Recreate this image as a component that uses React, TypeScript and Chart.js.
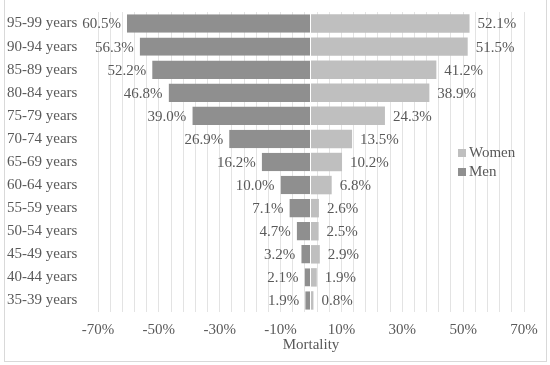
import React, { useEffect, useRef } from "react";
import { Chart, registerables } from "chart.js";

Chart.register(...registerables);

const ageGroups = [
  "95-99 years", "90-94 years", "85-89 years", "80-84 years", "75-79 years",
  "70-74 years", "65-69 years", "60-64 years", "55-59 years", "50-54 years",
  "45-49 years", "40-44 years", "35-39 years",
];
const menMortality = [60.5, 56.3, 52.2, 46.8, 39.0, 26.9, 16.2, 10.0, 7.1, 4.7, 3.2, 2.1, 1.9];
const womenMortality = [52.1, 51.5, 41.2, 38.9, 24.3, 13.5, 10.2, 6.8, 2.6, 2.5, 2.9, 1.9, 0.8];
const axisMin = -70;
const axisMax = 70;
const gridStep = 4;
const labelStep = 20;

const FONT = "'Liberation Serif', 'Times New Roman', serif";
const TEXT = "#595959";
const MEN = "#8f8f8f";
const WOMEN = "#bfbfbf";

const labelsPlugin = {
  id: "barLabels",
  afterDatasetsDraw(chart: any) {
    const ctx = chart.ctx;
    ctx.save();
    ctx.font = `15px ${FONT}`;
    ctx.fillStyle = TEXT;
    ctx.textBaseline = "middle";
    chart.data.datasets.forEach((ds: any, di: number) => {
      const meta = chart.getDatasetMeta(di);
      meta.data.forEach((el: any, i: number) => {
        const v = ds.data[i];
        const txt = `${Math.abs(v).toFixed(1)}%`;
        if (v < 0) {
          ctx.textAlign = "right";
          ctx.fillText(txt, el.x - 6, el.y + 1);
        } else {
          ctx.textAlign = "left";
          ctx.fillText(txt, el.x + 8, el.y + 1);
        }
      });
    });
    ctx.restore();
  },
};

const legendPlugin = {
  id: "insideLegend",
  afterDraw(chart: any) {
    const ctx = chart.ctx;
    const items = [chart.data.datasets[1], chart.data.datasets[0]];
    ctx.save();
    ctx.font = `15px ${FONT}`;
    ctx.textBaseline = "middle";
    ctx.textAlign = "left";
    items.forEach((ds: any, i: number) => {
      const cy = 153 + i * 19;
      ctx.fillStyle = ds.backgroundColor;
      ctx.fillRect(458, cy - 4, 8, 8);
      ctx.fillStyle = TEXT;
      ctx.fillText(ds.label, 469, cy);
    });
    ctx.restore();
  },
};

export default function App() {
  const ref = useRef<HTMLCanvasElement>(null);
  useEffect(() => {
    if (!ref.current) return;
    const chart = new Chart(ref.current, {
      type: "bar",
      data: {
        labels: ageGroups,
        datasets: [
          {
            label: "Men",
            data: menMortality.map((v) => -v),
            backgroundColor: MEN,
            borderColor: "#ffffff",
            borderWidth: { top: 0, bottom: 0, left: 0, right: 1 },
            borderSkipped: false,
            categoryPercentage: 1,
            barPercentage: 0.8,
          },
          {
            label: "Women",
            data: womenMortality,
            backgroundColor: WOMEN,
            borderWidth: 0,
            categoryPercentage: 1,
            barPercentage: 0.8,
          },
        ],
      },
      plugins: [labelsPlugin, legendPlugin],
      options: {
        indexAxis: "y",
        responsive: false,
        animation: false,
        layout: { padding: { left: 7, top: 12, right: 26, bottom: 3 } },
        plugins: { legend: { display: false }, tooltip: { enabled: false } },
        scales: {
          x: {
            stacked: true,
            min: axisMin,
            max: axisMax,
            afterBuildTicks(scale: any) {
              const t = [];
              for (let v = axisMin; v <= axisMax; v += gridStep) t.push({ value: v });
              scale.ticks = t;
            },
            afterFit(scale: any) {
              scale.height = 50;
            },
            grid: { color: "#e3e3e3", lineWidth: 1, drawTicks: false },
            border: { display: false },
            ticks: {
              autoSkip: false,
              maxRotation: 0,
              padding: 9,
              color: TEXT,
              font: { family: FONT, size: 15 },
              callback: (v: any) => ((Number(v) - axisMin) % labelStep === 0 ? `${v}%` : ""),
            },
            title: {
              display: true,
              text: "Mortality",
              color: TEXT,
              font: { family: FONT, size: 15 },
              padding: { top: 0, bottom: 8 },
            },
          },
          y: {
            stacked: true,
            afterFit(scale: any) {
              scale.width = 91;
            },
            grid: { display: false },
            border: { display: false },
            ticks: {
              crossAlign: "far",
              color: TEXT,
              font: { family: FONT, size: 15 },
            },
          },
        },
      },
    } as any);
    return () => chart.destroy();
  }, []);
  return (
    <div style={{ position: "absolute", left: 0, top: 0, width: 550, height: 365, background: "#fff" }}>
      <canvas ref={ref} width={550} height={365} style={{ width: 550, height: 365, display: "block" }} />
      <div
        style={{
          position: "absolute",
          left: 4,
          top: -1,
          width: 543,
          height: 363,
          boxSizing: "border-box",
          border: "1px solid #d9d9d9",
          pointerEvents: "none",
        }}
      />
    </div>
  );
}
